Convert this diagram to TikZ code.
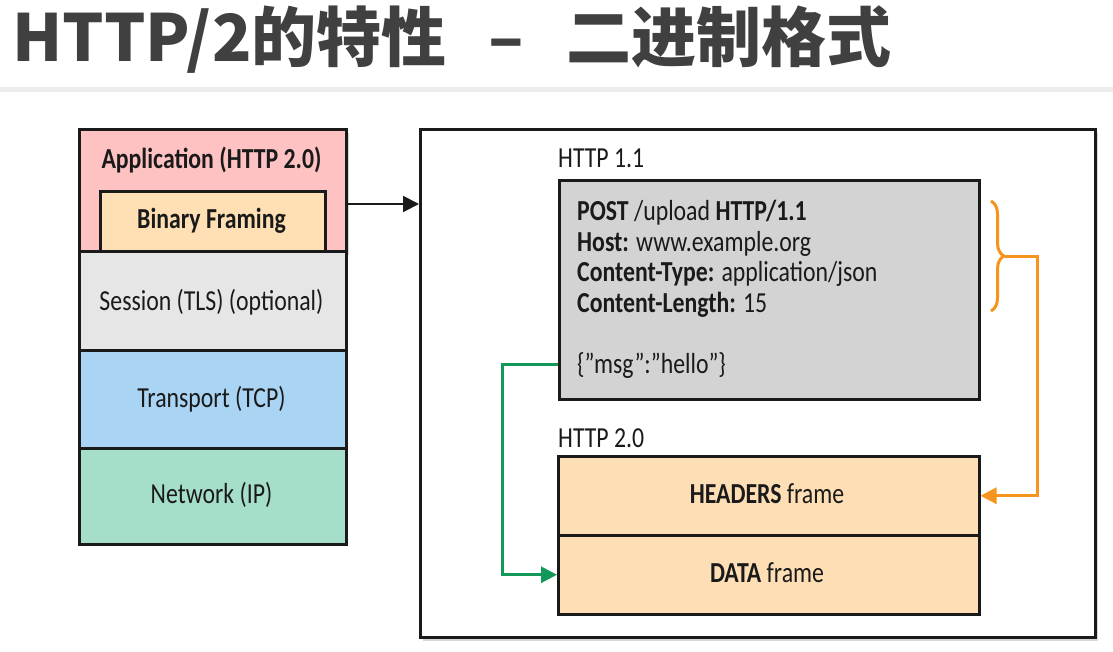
\documentclass[tikz,border=0pt]{standalone}
\usepackage{fontspec}
\setmainfont{Carlito}
\newfontfamily\cond{Carlito}[FakeStretch=0.82]
\newfontfamily\cjk{Noto Sans CJK SC}
\usetikzlibrary{arrows.meta,shadows,decorations.pathreplacing,calc}
\definecolor{titlegray}{HTML}{404040}
\definecolor{appred}{HTML}{FFC2C2}
\definecolor{framing}{HTML}{FFE0B4}
\definecolor{sessgray}{HTML}{E6E6E6}
\definecolor{tcpblue}{HTML}{A9D4F3}
\definecolor{ipgreen}{HTML}{A5DEC9}
\definecolor{boxgray}{HTML}{D3D3D3}
\definecolor{frameorange}{HTML}{FEDFB5}
\definecolor{arrorange}{HTML}{F7941D}
\definecolor{arrgreen}{HTML}{12995A}
\definecolor{ink}{HTML}{1A1A1A}
\tikzset{
  layer/.style={draw=ink, line width=2.5pt, anchor=north west, inner sep=0pt},
  lbl/.style={font=\cond\fontsize{29}{31}\selectfont, text=ink, inner sep=0pt, anchor=base},
  lblb/.style={lbl, font=\cond\bfseries\fontsize{29}{31}\selectfont},
  codeln/.style={lbl, anchor=base west},
  shad/.style={drop shadow={opacity=0.3, shadow xshift=3pt, shadow yshift=-4pt}},
  tip/.style={-{Triangle[length=16pt,width=16pt]}},
}
\begin{document}
\begin{tikzpicture}[x=1pt,y=-1pt]
\useasboundingbox (0,0) rectangle (1113,651);
\fill[white] (0,0) rectangle (1113,651);
% title
\node[anchor=base west, inner sep=0pt, text=titlegray, font=\cjk\bfseries\fontsize{65}{70}\selectfont] (title) at (12,61) {HTTP/2的特性\hspace{42pt}–\hspace{42pt}二进制格式};
\fill[black!7] (0,87) rectangle (1113,92);
% left stack
\node[layer, shad, fill=appred, minimum width=267pt, minimum height=122pt] (app) at (78,128) {};
\node[layer, fill=sessgray, minimum width=267pt, minimum height=99pt] (sess) at (78,250) {};
\node[layer, fill=tcpblue, minimum width=267pt, minimum height=98pt] (tcp) at (78,349) {};
\node[layer, fill=ipgreen, minimum width=267pt, minimum height=96pt] (ip) at (78,447) {};
\node[layer, fill=framing, minimum width=225pt, minimum height=60pt] (bf) at (99,190) {};
\node[lblb] (apptxt) at (211.5,168) {Application (HTTP 2.0)};
\node[lblb] (bftxt) at (211.5,228) {Binary Framing};
\node[lbl] (sesstxt) at (211.5,310) {Session (TLS) (optional)};
\node[lbl] (tcptxt) at (211.5,407) {Transport (TCP)};
\node[lbl] (iptxt) at (211.5,503) {Network (IP)};
% big box
\node[layer, shad, fill=white, minimum width=675pt, minimum height=508pt] (big) at (419,128) {};
\draw[line width=2pt, ink, tip] (app.east |- 0,204) -- (big.west |- 0,204);
% HTTP 1.1
\node[codeln] (l11) at (558,167) {HTTP 1.1};
\node[layer, fill=boxgray, minimum width=420pt, minimum height=219pt] (h11) at (558,179) {};
\node[codeln] (c1) at (577,220) {\textbf{POST} /upload \textbf{HTTP/1.1}};
\node[codeln] (c2) at (577,251) {\textbf{Host:} www.example.org};
\node[codeln] (c3) at (577,281.5) {\textbf{Content-Type:} application/json};
\node[codeln] (c4) at (577,312) {\textbf{Content-Length:} 15};
\node[codeln] (msg) at (577,373) {\{”msg”:”hello”\}};
% HTTP 2.0
\node[codeln] (l20) at (558,447) {HTTP 2.0};
\node[layer, fill=frameorange, minimum width=421pt, minimum height=79pt] (hf) at (557,455) {};
\node[layer, fill=frameorange, minimum width=421pt, minimum height=79pt] (df) at (557,534) {};
\node[lbl] (hftxt) at (767,503) {\textbf{HEADERS} frame};
\node[lbl] (dftxt) at (767,582) {\textbf{DATA} frame};
% brace and arrows
\draw[arrorange, line width=3pt, decorate, decoration={brace, amplitude=13pt, aspect=0.5}] (991,201) -- (991,311);
\coordinate (bt) at (1005,256);
\draw[arrorange, line width=3pt, tip] (bt) -- (1037,256) |- (hf.east);
\draw[arrgreen, line width=3pt, tip] (h11.west |- 0,364) -- (502,364) |- (df.west);
\end{tikzpicture}
\end{document}
